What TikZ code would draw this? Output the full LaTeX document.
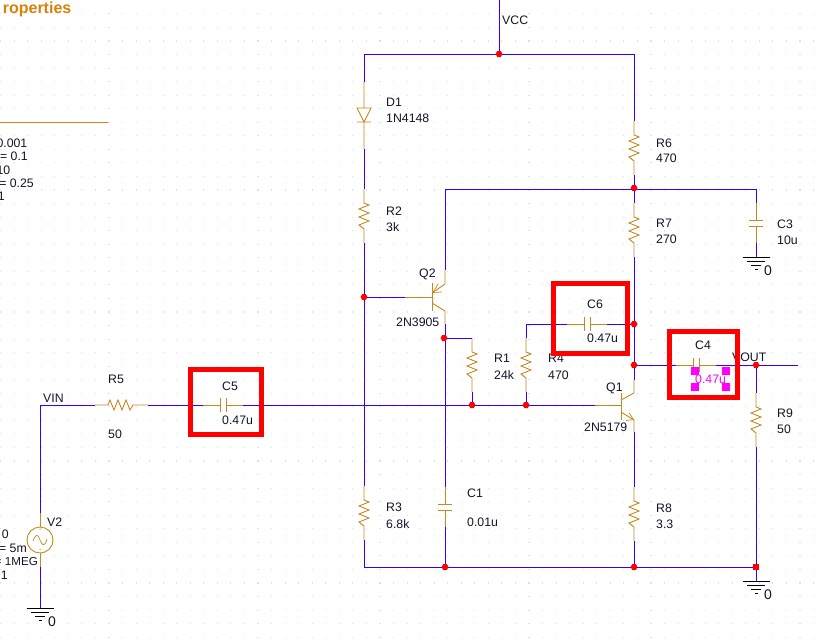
\documentclass[tikz,border=0pt]{standalone}
\usepackage{fontspec}
\setmainfont{Liberation Sans}
\definecolor{wireblue}{RGB}{51,0,255}
\definecolor{partgold}{RGB}{196,138,32}
\definecolor{titleorange}{RGB}{216,130,8}
\definecolor{griddot}{RGB}{205,232,245}
\definecolor{txt}{RGB}{20,20,40}
\definecolor{selmag}{RGB}{255,0,255}
\definecolor{boxred}{RGB}{255,0,0}
\tikzset{
  wire/.style={draw=wireblue,line width=.95pt},
  part/.style={draw=partgold,line width=.9pt},
  lbl/.style={anchor=west,inner sep=0pt,text=txt,font=\fontsize{12.3}{14}\selectfont},
  lblr/.style={anchor=east,inner sep=0pt,text=txt,font=\fontsize{12.3}{14}\selectfont},
  gnd/.style={draw=black,line width=.85pt},
  redbox/.style={draw=boxred,line width=5pt},
  handle/.style={fill=selmag,draw=none},
  jct/.style={fill=boxred,draw=none}
}
% vertical resistor centred at x,y with terminals #1a (top), #1b (bottom)
\newcommand{\vresist}[3]{%
  \coordinate (#1a) at (#2,#3-27);
  \coordinate (#1b) at (#2,#3+27);
  \draw[part,line join=miter] (#1a) -- (#2,#3-13) -- (#2+5,#3-11) -- (#2-5,#3-7) -- (#2+5,#3-3) -- (#2-5,#3+1) -- (#2+5,#3+5) -- (#2-5,#3+9) -- (#2,#3+13) -- (#1b);
}
% vertical capacitor
\newcommand{\vcap}[3]{%
  \coordinate (#1a) at (#2,#3-20);
  \coordinate (#1b) at (#2,#3+20);
  \draw[part] (#1a) -- (#2,#3-3) (#2-7,#3-3) -- (#2+7,#3-3) (#2-7,#3+3) -- (#2+7,#3+3) (#2,#3+3) -- (#1b);
}
% horizontal capacitor
\newcommand{\hcap}[3]{%
  \coordinate (#1a) at (#2-20,#3);
  \coordinate (#1b) at (#2+20,#3);
  \draw[part] (#1a) -- (#2-3,#3) (#2-3,#3-7) -- (#2-3,#3+7) (#2+3,#3-7) -- (#2+3,#3+7) (#2+3,#3) -- (#1b);
}
% ground symbol
\newcommand{\earth}[3]{%
  \coordinate (#1) at (#2,#3);
  \draw[gnd] (#2-13.5,#3) -- (#2+13.5,#3) (#2-9,#3+4.3) -- (#2+9,#3+4.3) (#2-5,#3+8.6) -- (#2+5,#3+8.6) (#2-1.5,#3+12.5) -- (#2+1.5,#3+12.5);
}
\newcommand{\junction}[3]{%
  \coordinate (#1) at (#2,#3);
  \fill[jct] (#2-3.5,#3) -- (#2-1.7,#3-3) -- (#2+1.7,#3-3) -- (#2+3.5,#3) -- (#2+1.7,#3+3) -- (#2-1.7,#3+3) -- cycle;
}
\begin{document}
\begin{tikzpicture}[x=1pt,y=-1pt]
\useasboundingbox (0,0) rectangle (818,643);
\fill[white] (0,0) rectangle (818,643);
% grid of dots
\foreach \gx in {0,...,60} \foreach \gy in {0,...,47}
  \fill[griddot] ({13.55*\gx},{13.3+13.55*\gy}) rectangle +(1.1,1.1);

% parts
\vresist{Rsix}{634}{148}
\vresist{Rseven}{634}{230}
\vresist{Rtwo}{364}{216}
\vresist{Rthree}{364}{513}
\vresist{Reight}{634}{514}
\vresist{Rone}{472}{365}
\vresist{Rfour}{526}{365}
\vresist{Rnine}{756}{420}
\vcap{Cthree}{756}{223}
\vcap{Cone}{445}{507}
\hcap{Csix}{587}{324}
\hcap{Cfour}{696}{365}
\hcap{Cfive}{223}{405}
\earth{gA}{756}{257}
\earth{gB}{756}{581}
\earth{gC}{40}{608}
% R5
\coordinate (Rfivea) at (95,405);
\coordinate (Rfiveb) at (148,405);
\draw[part] (Rfivea) -- (108,405) -- (110,400) -- (114,410) -- (118,400) -- (122,410) -- (126,400) -- (130,410) -- (133,405) -- (Rfiveb);
% D1
\coordinate (Da) at (364,82);
\coordinate (Db) at (364,149);
\draw[part] (Da) -- (364,108) (357,108) -- (371,108) -- (364,122) -- cycle (357,122) -- (371,122) (364,122) -- (Db);
% V2
\coordinate (Va) at (40,513);
\coordinate (Vb) at (40,567);
\draw[part] (Va) -- (40,527) (Vb) -- (40,553);
\draw[part] (40,540) circle (13);
\draw[part,line width=.7pt] (33,541) .. controls (36,533) and (38,534) .. (40,540) .. controls (42,546) and (45,547) .. (47,539);
\fill[partgold] (39.5,528.5) rectangle +(1,1) (39.5,549) rectangle +(1,1);
% Q2
\coordinate (Qtb) at (405,297);
\coordinate (Qte) at (445,270);
\coordinate (Qtc) at (445,324);
\draw[part] (Qtb) -- (432,297) (432,283) -- (432,311);
\draw[part] (432,293) -- (445,284) -- (Qte) (432,303) -- (445,311) -- (Qtc);
\draw[part,line width=.7pt] (438,284) -- (433,292.5) -- (442,292);
% Q1
\coordinate (Qob) at (595,405);
\coordinate (Qoc) at (634,380);
\coordinate (Qoe) at (634,432);
\draw[part] (Qob) -- (621,405) (621,393) -- (621,420);
\draw[part] (621,400) -- (634,393) -- (Qoc) (621,412) -- (634,420) -- (Qoe);
\draw[part,line width=.7pt] (626,420.5) -- (633.5,419.5) -- (629,412.5);

% named points
\coordinate (vcctop) at (499,0);
\coordinate (topleft) at (364,54);
\coordinate (topright) at (634,54);
\coordinate (botleft) at (364,567);
\coordinate (vinc) at (40,405);
\coordinate (emtop) at (445,189);
\coordinate (capc) at (756,189);
\coordinate (rtop) at (472,338);
\coordinate (rfourtop) at (526,324);
\coordinate (voutend) at (798,365);

% wires
\draw[wire] (vcctop) -- (499,54);
\draw[wire] (Da) -- (topleft) -- (topright) -- (Rsixa);
\draw[wire] (Db) -- (Rtwoa);
\draw[wire] (Rtwob) -- (Rthreea);
\draw[wire] (Rthreeb) -- (botleft) -- (756,567);
\draw[wire] (Rsixb) -- (Rsevena);
\draw[wire] (Rsevenb) -- (Qoc);
\draw[wire] (Qoe) -- (Reighta);
\draw[wire] (Reightb) -- (634,567);
\draw[wire] (Qte) -- (emtop) -- (capc) -- (Cthreea);
\draw[wire] (Cthreeb) -- (gA);
\draw[wire] (Qtc) -- (Conea);
\draw[wire] (Coneb) -- (445,567);
\draw[wire] (364,297) -- (Qtb);
\draw[wire] (445,338) -- (rtop) -- (Ronea);
\draw[wire] (Roneb) -- (472,405);
\draw[wire] (Rfourb) -- (526,405);
\draw[wire] (Rfoura) -- (rfourtop) -- (Csixa);
\draw[wire] (Csixb) -- (634,324);
\draw[wire] (634,365) -- (Cfoura);
\draw[wire] (Cfourb) -- (voutend);
\draw[wire] (756,365) -- (Rninea);
\draw[wire] (Rnineb) -- (gB);
\draw[wire] (Va) -- (vinc) -- (Rfivea);
\draw[wire] (Vb) -- (gC);
\draw[wire] (Rfiveb) -- (Cfivea);
\draw[wire] (Cfiveb) -- (Qob);

% junctions
\junction{jA}{499}{54}
\junction{jB}{634}{188}
\junction{jC}{634}{324}
\junction{jD}{634}{365}
\junction{jE}{756}{365}
\junction{jF}{364}{297}
\junction{jG}{444}{338}
\junction{jH}{472}{405}
\junction{jI}{526}{405}
\junction{jJ}{445}{567}
\junction{jK}{634}{567}
\fill[jct] (752.5,563.5) rectangle (758.5,570);

% schematic labels
\node[lbl] (tVCC) at (502,20) {VCC};
\node[lbl] (tD) at (386,102) {D1};
\node[lbl] (tDv) at (386,118) {1N4148};
\node[lbl] (tR6) at (656,143) {R6};
\node[lbl] (tR6v) at (656,158) {470};
\node[lbl] (tR7) at (656,223) {R7};
\node[lbl] (tR7v) at (656,239) {270};
\node[lbl] (tC3) at (777,224) {C3};
\node[lbl] (tC3v) at (777,240) {10u};
\node[lbl] (tg1) at (764,271) {\fontsize{14}{14}\selectfont 0};
\node[lbl] (tR2) at (386,211) {R2};
\node[lbl] (tR2v) at (386,227) {3k};
\node[lbl] (tQ2) at (419,274) {Q2};
\node[lbl] (tQ2v) at (396,322) {2N3905};
\node[lbl] (tR1) at (494,358) {R1};
\node[lbl] (tR1v) at (494,375) {24k};
\node[lbl] (tR4) at (548,358) {R4};
\node[lbl] (tR4v) at (548,375) {470};
\node[lbl] (tC6) at (587,304) {C6};
\node[lbl] (tC6v) at (587,338) {0.47u};
\node[lbl] (tC4) at (695,345) {C4};
\node[lbl] (tVOUT) at (732,357) {VOUT};
\node[lbl] (tQ1) at (606,388) {Q1};
\node[lbl] (tQ1v) at (584,427) {2N5179};
\node[lbl] (tR9) at (777,413) {R9};
\node[lbl] (tR9v) at (777,429) {50};
\node[lbl] (tR8) at (656,508) {R8};
\node[lbl] (tR8v) at (656,524) {3.3};
\node[lbl] (tR3) at (386,507) {R3};
\node[lbl] (tR3v) at (386,524) {6.8k};
\node[lbl] (tC1) at (467,493) {C1};
\node[lbl] (tC1v) at (467,522) {0.01u};
\node[lbl] (tg2) at (764,595) {\fontsize{14}{14}\selectfont 0};
\node[lbl] (tVIN) at (43,398) {VIN};
\node[lbl] (tR5) at (108,379) {R5};
\node[lbl] (tR5v) at (108,434) {50};
\node[lbl] (tC5) at (222,386) {C5};
\node[lbl] (tC5v) at (222,420) {0.47u};
\node[lbl] (tV2) at (47,522) {V2};
\node[lbl] (tg3) at (48,622) {\fontsize{14}{14}\selectfont 0};
% clipped source parameters
\node[lblr] (tP1) at (9,534) {0};
\node[lblr] (tP2) at (27,548) {= 5m};
\node[lblr,font=\fontsize{11.6}{14}\selectfont] (tP3) at (38,561) {= 1MEG};
\node[lblr] (tP4) at (8,575) {1};
% clipped side panel
\node[lblr,text=titleorange,font=\bfseries\fontsize{16}{18}\selectfont] (tTitle) at (71.5,9) {roperties};
\draw[draw=titleorange,line width=.9pt] (0,122) -- (108,122);
\node[lblr] (tL1) at (27.5,143) {0.001};
\node[lblr] (tL2) at (28,156.5) {= 0.1};
\node[lblr] (tL3) at (10.5,170) {10};
\node[lblr] (tL4) at (34,183.5) {= 0.25};
\node[lblr] (tL5) at (5,196.5) {1};

% highlight boxes, over the labels
\draw[redbox] (190.5,369.5) rectangle (261.5,434.5);
\draw[redbox] (553.5,283.5) rectangle (627.5,353.5);
\draw[redbox] (669.5,331.5) rectangle (737.5,397.5);

% selection handles and the selected value
\foreach \hx/\hy in {695/371,726/371,695/387,726/387}
  \fill[handle] (\hx-4,\hy-4) rectangle (\hx+4,\hy+4);
\node[lbl,text=selmag] (tC4v) at (695,379) {0.47u};
\end{tikzpicture}
\end{document}
